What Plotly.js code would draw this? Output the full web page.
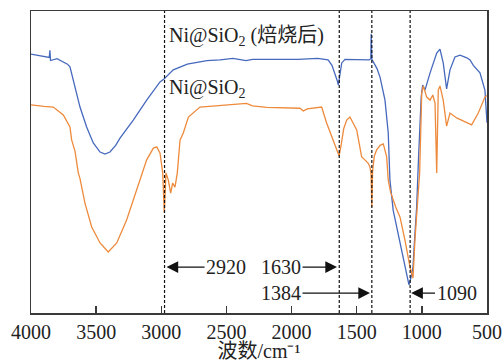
<!DOCTYPE html>
<html>
<head>
<meta charset="utf-8">
<script src="https://cdn.plot.ly/plotly-3.0.1.min.js"></script>
<style>html,body{margin:0;padding:0;background:#fff;}#chart{width:502px;height:362px;}</style>
</head>
<body>
<div id="chart"></div>
<script>
// Wavenumbers (cm-1) and relative transmittance (arbitrary units)
const blueWn = [4000,3950,3900,3860,3855,3850,3800,3752,3720,3701,3675,3650,3624,3573,3522,3470,3432,3394,3350,3317,3215,3112,3010,2979,2908,2800,2754,2650,2549,2450,2350,2300,2200,1950,1800,1720,1690,1667,1650,1641,1628,1615,1590,1480,1405,1392,1389,1384,1370,1345,1321,1283,1258,1245,1220,1193,1145,1120,1099,1085,1068,1055,1040,1025,1014,1005,994,976,937,900,886,861,836,810,784,746,707,655,630,605,554,516,503,500];
const blueT  = [85.7,85.3,85.0,84.6,87.0,83.6,84.2,83.1,82.4,81.5,77.2,73.0,68.2,61.6,56.3,53.3,52.6,53.3,55.5,57.9,63.9,70.5,76.5,77.5,80.5,82.4,82.8,83.6,83.8,84.3,83.6,84.0,84.0,84.0,84.3,83.8,82.0,79.5,77.0,75.5,78.5,82.8,84.0,84.0,83.8,84.2,92.5,84.0,83.0,81.0,78.1,70.5,59.6,44.0,34.0,28.5,18.5,13.5,9.3,11.5,15.2,25.0,35.1,52.0,62.0,71.5,75.5,73.8,79.5,84.0,86.1,87.4,82.8,74.2,80.5,84.8,85.4,84.5,83.8,82.0,79.5,73.8,64.9,63.0];

const orangeWn = [4000,3950,3900,3829,3790,3752,3701,3688,3662,3637,3624,3586,3534,3470,3407,3342,3266,3189,3112,3061,3035,3010,2989,2977,2964,2946,2928,2913,2895,2877,2856,2831,2792,2703,2600,2450,2346,2300,2191,1935,1910,1880,1769,1731,1705,1680,1654,1635,1620,1600,1577,1552,1500,1462,1437,1410,1398,1390,1384,1378,1365,1347,1320,1296,1270,1258,1240,1222,1200,1168,1130,1091,1068,1053,1037,1017,1001,989,963,937,916,899,886,874,861,836,810,784,733,656,618,567,516,500];
const orangeT  = [68.9,68.6,68.4,68.2,67.0,65.6,61.6,57.3,53.5,46.4,44.5,36.4,28.5,23.2,20.2,23.2,30.8,40.7,50.7,54.6,55.0,53.0,46.4,33.1,46.4,44.0,39.7,43.0,41.7,46.4,57.3,59.6,64.9,68.2,68.5,68.9,69.4,68.6,68.1,67.8,66.9,67.6,68.2,62.9,59.9,57.3,54.0,52.0,55.5,61.0,63.9,64.9,60.6,51.7,50.7,49.5,48.3,46.0,35.1,47.0,52.0,54.0,55.5,56.0,51.7,44.0,40.0,37.4,35.0,31.8,24.2,15.2,11.6,24.2,35.1,46.4,72.8,75.2,71.5,70.5,72.2,69.5,46.4,73.8,75.2,70.5,61.9,66.2,64.6,62.9,62.3,66.2,71.5,72.0];

const peakLines  = [2975, 1634, 1384, 1090];
const peakLabels = ['2920', '1630', '1384', '1090'];
const tickVals = [4000, 3500, 3000, 2500, 2000, 1500, 1000, 500];
const seriesNames = ['Ni@SiO<sub>2</sub> (焙烧后)', 'Ni@SiO<sub>2</sub>'];
const xTitle = '波数/cm⁻¹';

const serif = '"Liberation Serif", "Times New Roman", "Noto Sans CJK SC", serif';
const frame = '#3a3a3a';

const traces = [
  {x: blueWn, y: blueT, type: 'scatter', mode: 'lines', name: seriesNames[0],
   line: {color: '#4669bd', width: 1.3}},
  {x: orangeWn, y: orangeT, type: 'scatter', mode: 'lines', name: seriesNames[1],
   line: {color: '#ee8a3c', width: 1.3}}
];

const shapes = peakLines.map(v => ({
  type: 'line', xref: 'x', yref: 'paper', x0: v, x1: v, y0: 0, y1: 1,
  line: {color: '#111', width: 1.2, dash: '3px,2px'}
}));

const txtFont = {family: serif, size: 20, color: '#222'};
const arrowCommon = {xref: 'x', yref: 'y', axref: 'x', ayref: 'y', showarrow: true,
  arrowhead: 2, arrowsize: 1.8, arrowwidth: 1.3, arrowcolor: '#111', font: txtFont};

const annotations = [
  {xref: 'x', yref: 'y', x: 2958, y: 91.4, xanchor: 'left', yanchor: 'middle',
   text: seriesNames[0], showarrow: false, font: txtFont},
  {xref: 'x', yref: 'y', x: 2958, y: 74.2, xanchor: 'left', yanchor: 'middle',
   text: seriesNames[1], showarrow: false, font: txtFont},
  Object.assign({}, arrowCommon, {text: peakLabels[0], x: 2960, y: 15.2, ax: 2503, ay: 15.2}),
  Object.assign({}, arrowCommon, {text: peakLabels[1], x: 1651, y: 15.2, ax: 2081, ay: 15.2}),
  Object.assign({}, arrowCommon, {text: peakLabels[2], x: 1398, y: 6.6, ax: 2081, ay: 6.6}),
  Object.assign({}, arrowCommon, {text: peakLabels[3], x: 1082, y: 6.6, ax: 734, ay: 6.6})
];

const layout = {
  width: 502, height: 362,
  margin: {l: 31, r: 15, t: 11, b: 49},
  paper_bgcolor: '#fff', plot_bgcolor: '#fff',
  showlegend: false,
  font: {family: serif, color: '#222'},
  xaxis: {
    range: [4000, 500], tickvals: tickVals, ticktext: tickVals.map(String),
    ticks: 'inside', ticklen: 7, tickwidth: 1.3, tickcolor: frame,
    showline: true, linecolor: frame, linewidth: 1.5, mirror: true,
    showgrid: false, zeroline: false,
    tickfont: {family: serif, size: 20, color: '#222'},
    title: {text: xTitle, font: {family: serif, size: 20, color: '#222'}, standoff: 2}
  },
  yaxis: {
    range: [0, 100], showticklabels: false, ticks: '',
    showline: true, linecolor: frame, linewidth: 1.5, mirror: true,
    showgrid: false, zeroline: false
  },
  shapes: shapes,
  annotations: annotations
};

Plotly.newPlot('chart', traces, layout, {displayModeBar: false, staticPlot: true});
</script>
</body>
</html>
